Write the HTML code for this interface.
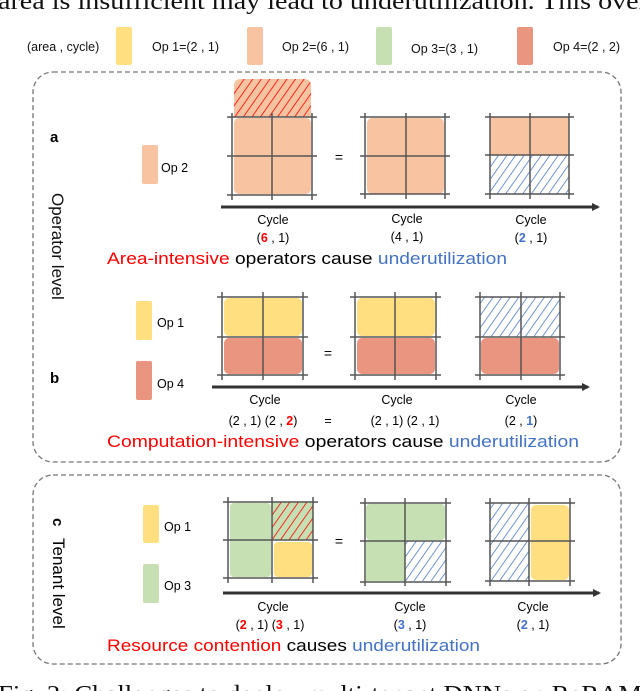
<!DOCTYPE html>
<html><head><meta charset="utf-8"><style>
html,body{margin:0;padding:0;background:#fff;}
svg{display:block;font-family:"Liberation Sans",sans-serif;}
</style></head><body>
<svg width="640" height="691" viewBox="0 0 640 691" xmlns="http://www.w3.org/2000/svg">
<defs>
<pattern id="hr" patternUnits="userSpaceOnUse" width="7" height="7" patternTransform="rotate(35)"><rect width="7" height="7" fill="#F8C3A0"/><line x1="0" y1="0" x2="0" y2="7" stroke="#FF0000" stroke-width="1.6"/></pattern>
<pattern id="hrg" patternUnits="userSpaceOnUse" width="7" height="7" patternTransform="rotate(35)"><rect width="7" height="7" fill="#C6E0B4"/><line x1="0" y1="0" x2="0" y2="7" stroke="#FF0000" stroke-width="1.6"/></pattern>
<pattern id="hb" patternUnits="userSpaceOnUse" width="7" height="7" patternTransform="rotate(35)"><rect width="7" height="7" fill="#fff"/><line x1="0" y1="0" x2="0" y2="7" stroke="#4472C4" stroke-width="1.5"/></pattern>
<marker id="ah" markerWidth="8" markerHeight="8" refX="6" refY="4" orient="auto" markerUnits="userSpaceOnUse"><path d="M0,0 L8,4 L0,8 z" fill="#333"/></marker>
</defs>

<text x="-2" y="9" font-family="Liberation Serif,serif" font-size="24" fill="#111" textLength="650" lengthAdjust="spacingAndGlyphs">area is insufficient may lead to underutilization. This over</text>

<g font-size="12.5" fill="#111">
<text x="27" y="51">(area , cycle)</text>
<rect x="116" y="27" width="16" height="38" rx="2" fill="#FFDF80"/>
<text x="152" y="51">Op 1=(2 , 1)</text>
<rect x="247" y="27" width="16" height="38" rx="2" fill="#F8C3A0"/>
<text x="282" y="51">Op 2=(6 , 1)</text>
<rect x="376" y="27" width="16" height="38" rx="2" fill="#C6E0B4"/>
<text x="411" y="53">Op 3=(3 , 1)</text>
<rect x="517" y="27" width="16" height="38" rx="2" fill="#EA9580"/>
<text x="553" y="51">Op 4=(2 , 2)</text>
</g>

<rect x="33" y="72" width="588" height="390" rx="20" fill="none" stroke="#777" stroke-width="1.3" stroke-dasharray="5,3"/>
<text transform="translate(52,193) rotate(90)" font-size="17" fill="#111">Operator level</text>

<g>
<text x="50" y="142" font-size="15" font-weight="bold">a</text>
<rect x="142" y="145" width="16" height="39" rx="2" fill="#F8C3A0"/>
<text x="161" y="172" font-size="12.5">Op 2</text>
<path d="M234,117 V86 Q234,79 241,79 H304 Q311,79 311,86 V117 Z" fill="url(#hr)"/>
<rect x="234" y="118" width="77" height="76" rx="5" fill="#F8C3A0"/>
<g stroke="#555" stroke-width="1.5"><path d="M232,113V200M272,113V200M312,113V200M227,117H317M227,156H317M227,195H317"/></g>
<text x="339" y="162" font-size="14" text-anchor="middle">=</text>
<rect x="367" y="118" width="77" height="76" rx="5" fill="#F8C3A0"/>
<g stroke="#555" stroke-width="1.5"><path d="M365,113V199M406,113V199M445,113V199M360,117H450M360,156H450M360,194H450"/></g>
<rect x="490" y="117" width="79" height="38" fill="#F8C3A0"/>
<rect x="490" y="155" width="79" height="39" fill="url(#hb)"/>
<g stroke="#555" stroke-width="1.5"><path d="M490,113V199M530,113V199M569,113V199M485,117H574M485,155H574M485,194H574"/></g>
<line x1="221" y1="207" x2="598" y2="207" stroke="#333" stroke-width="3" marker-end="url(#ah)"/>
<g font-size="12.5" text-anchor="middle">
<text x="273" y="224">Cycle</text><text x="273" y="242">(<tspan fill="#FF0000" font-weight="bold">6</tspan> , 1)</text>
<text x="407" y="223">Cycle</text><text x="407" y="241">(4 , 1)</text>
<text x="531" y="224">Cycle</text><text x="531" y="242">(<tspan fill="#4472C4" font-weight="bold">2</tspan> , 1)</text>
</g>
<text x="107" y="264" font-size="17" textLength="400" lengthAdjust="spacingAndGlyphs"><tspan fill="#FF0000">Area-intensive</tspan> operators cause <tspan fill="#4472C4">underutilization</tspan></text>
</g>

<g>
<text x="50" y="383" font-size="15" font-weight="bold">b</text>
<rect x="136" y="301" width="16" height="39" rx="2" fill="#FFDF80"/>
<text x="157" y="327" font-size="12.5">Op 1</text>
<rect x="136" y="361" width="16" height="39" rx="2" fill="#EA9580"/>
<text x="157" y="388" font-size="12.5">Op 4</text>
<rect x="224" y="298" width="78" height="38" rx="5" fill="#FFDF80"/>
<rect x="224" y="338" width="78" height="36" rx="5" fill="#EA9580"/>
<g stroke="#555" stroke-width="1.5"><path d="M222,292V380M263,292V380M303,292V380M217,297H308M217,337H308M217,375H308"/></g>
<text x="328" y="358" font-size="14" text-anchor="middle">=</text>
<rect x="357" y="298" width="78" height="38" rx="5" fill="#FFDF80"/>
<rect x="357" y="338" width="78" height="36" rx="5" fill="#EA9580"/>
<g stroke="#555" stroke-width="1.5"><path d="M355,292V380M395,292V380M436,292V380M350,297H441M350,337H441M350,375H441"/></g>
<rect x="480" y="297" width="80" height="40" fill="url(#hb)"/>
<rect x="481" y="338" width="78" height="36" rx="5" fill="#EA9580"/>
<g stroke="#555" stroke-width="1.5"><path d="M480,292V380M521,292V380M560,292V380M475,297H565M475,337H565M475,375H565"/></g>
<line x1="212" y1="387" x2="588" y2="387" stroke="#333" stroke-width="3" marker-end="url(#ah)"/>
<g font-size="12.5" text-anchor="middle">
<text x="265" y="404">Cycle</text><text x="263" y="425">(2 , 1) (2 , <tspan fill="#FF0000" font-weight="bold">2</tspan>)</text>
<text x="328" y="425">=</text>
<text x="397" y="404">Cycle</text><text x="405" y="425">(2 , 1) (2 , 1)</text>
<text x="521" y="404">Cycle</text><text x="521" y="425">(2 , <tspan fill="#4472C4" font-weight="bold">1</tspan>)</text>
</g>
<text x="107" y="447" font-size="17" textLength="472" lengthAdjust="spacingAndGlyphs"><tspan fill="#FF0000">Computation-intensive</tspan> operators cause <tspan fill="#4472C4">underutilization</tspan></text>
</g>

<rect x="33" y="475" width="588" height="189" rx="20" fill="none" stroke="#777" stroke-width="1.3" stroke-dasharray="5,3"/>
<g>
<text transform="translate(53,518) rotate(90)" font-size="15" font-weight="bold">c</text>
<text transform="translate(53,538) rotate(90)" font-size="17">Tenant level</text>
<rect x="143" y="505" width="16" height="38" rx="2" fill="#FFDF80"/>
<text x="164" y="531" font-size="12.5">Op 1</text>
<rect x="143" y="564" width="16" height="39" rx="2" fill="#C6E0B4"/>
<text x="164" y="590" font-size="12.5">Op 3</text>
<rect x="230" y="503" width="41" height="74" rx="4" fill="#C6E0B4"/>
<rect x="272" y="502" width="41" height="38" fill="url(#hrg)"/>
<rect x="274" y="542" width="38" height="35" rx="4" fill="#FFDF80"/>
<g stroke="#555" stroke-width="1.5"><path d="M228,497V583M272,497V583M313,497V583M223,502H318M223,540H318M223,578H318"/></g>
<text x="339" y="546" font-size="14" text-anchor="middle">=</text>
<rect x="366" y="504" width="79" height="36" rx="4" fill="#C6E0B4"/>
<rect x="366" y="540" width="39" height="41" fill="#C6E0B4"/>
<rect x="405" y="541" width="41" height="40" fill="url(#hb)"/>
<g stroke="#555" stroke-width="1.5"><path d="M365,498V586M405,498V586M446,498V586M360,503H451M360,541H451M360,582H451"/></g>
<rect x="490" y="503" width="39" height="78" fill="url(#hb)"/>
<rect x="531" y="505" width="38" height="75" rx="5" fill="#FFDF80"/>
<g stroke="#555" stroke-width="1.5"><path d="M490,498V586M529,498V586M570,498V586M485,503H575M485,541H575M485,581H575"/></g>
<line x1="223" y1="593" x2="599" y2="593" stroke="#333" stroke-width="3" marker-end="url(#ah)"/>
<g font-size="12.5" text-anchor="middle">
<text x="273" y="611">Cycle</text><text x="270" y="629">(<tspan fill="#FF0000" font-weight="bold">2</tspan> , 1) (<tspan fill="#FF0000" font-weight="bold">3</tspan> , 1)</text>
<text x="410" y="611">Cycle</text><text x="410" y="629">(<tspan fill="#4472C4" font-weight="bold">3</tspan> , 1)</text>
<text x="533" y="611">Cycle</text><text x="533" y="629">(<tspan fill="#4472C4" font-weight="bold">2</tspan> , 1)</text>
</g>
<text x="107" y="651" font-size="17" textLength="373" lengthAdjust="spacingAndGlyphs"><tspan fill="#FF0000">Resource contention</tspan> causes <tspan fill="#4472C4">underutilization</tspan></text>
</g>

<text x="-2" y="702" font-family="Liberation Serif,serif" font-size="24" fill="#111" textLength="644" lengthAdjust="spacingAndGlyphs">Fig. 2: Challenges to deploy multi-tenant DNNs on ReRAM</text>
</svg>
</body></html>
